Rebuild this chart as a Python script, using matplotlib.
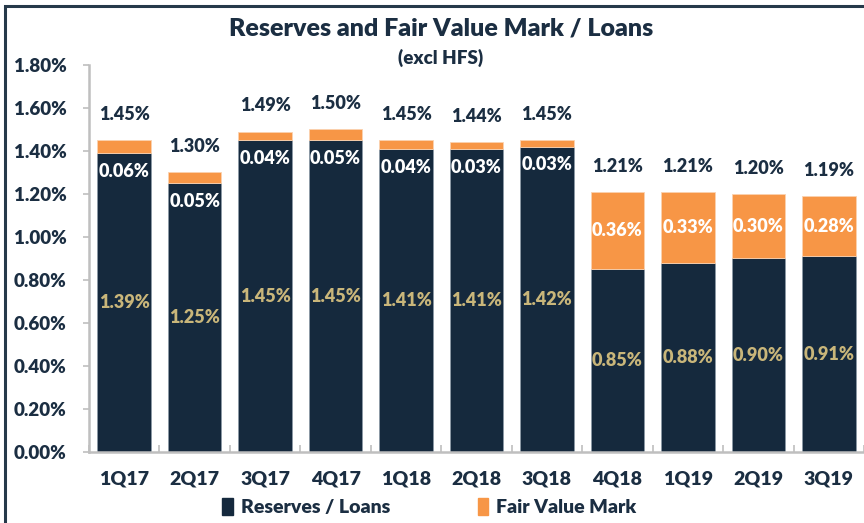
import matplotlib
matplotlib.use("Agg")
import matplotlib.pyplot as plt
from matplotlib.patches import Rectangle, Patch
import numpy as np

plt.rcParams['font.family'] = ['Lato', 'DejaVu Sans']
plt.rcParams['font.weight'] = 'bold'

quarters = ["1Q17", "2Q17", "3Q17", "4Q17", "1Q18", "2Q18", "3Q18",
            "4Q18", "1Q19", "2Q19", "3Q19"]
reserves = [1.39, 1.25, 1.45, 1.45, 1.41, 1.41, 1.42, 0.85, 0.88, 0.90, 0.91]
fair_value = [0.06, 0.05, 0.04, 0.05, 0.04, 0.03, 0.03, 0.36, 0.33, 0.30, 0.28]
totals = [1.45, 1.30, 1.49, 1.50, 1.45, 1.44, 1.45, 1.21, 1.21, 1.20, 1.19]
y_ticks = [0.0, 0.2, 0.4, 0.6, 0.8, 1.0, 1.2, 1.4, 1.6, 1.8]

NAVY = "#15293d"
ORANGE = "#f79646"
KHAKI = "#c9b67a"
TEXT = "#1b2e42"
GRID = "#bfbfbf"
W = "heavy"

fig = plt.figure(figsize=(8.64, 5.23), dpi=100)
ax = fig.add_axes([0.103, 0.1358, 0.897, 0.74])

x = np.arange(len(quarters))
ax.bar(x, reserves, width=0.76, color=NAVY, edgecolor="#8c9aa6", linewidth=0.6)
ax.bar(x, fair_value, width=0.76, bottom=reserves, color=ORANGE,
       edgecolor="#fbd2b0", linewidth=0.6)

for i in range(len(quarters)):
    ax.text(x[i], totals[i] + 0.12, f"{totals[i]:.2f}%", ha="center", va="center",
            fontsize=13, color=TEXT, fontweight=W)
    ax.text(x[i], reserves[i] / 2, f"{reserves[i]:.2f}%", ha="center", va="center",
            fontsize=13, color=KHAKI, fontweight=W)
    if fair_value[i] > 0.1:
        fy = reserves[i] + fair_value[i] / 2
    else:
        fy = reserves[i] - 0.085
    ax.text(x[i], fy, f"{fair_value[i]:.2f}%", ha="center", va="center",
            fontsize=13, color="white", fontweight=W)

ax.set_xlim(-0.5, len(quarters) - 0.5)
ax.set_ylim(0, 1.8)
ax.set_yticks(y_ticks)
ax.set_yticklabels([f"{v:.2f}%" for v in y_ticks], fontweight=W)
ax.set_xticks(x)
ax.set_xticklabels(quarters, fontweight=W)
ax.set_xticks(np.arange(-0.5, len(quarters)), minor=True)

for s in ["top", "right"]:
    ax.spines[s].set_visible(False)
for s in ["left", "bottom"]:
    ax.spines[s].set_color(GRID)
    ax.spines[s].set_linewidth(1.8)

ax.tick_params(axis="y", colors=GRID, labelcolor=TEXT, labelsize=13.5,
               length=4, width=1.2, pad=12)
ax.tick_params(axis="x", which="major", length=0, labelcolor=TEXT,
               labelsize=14, pad=13)
ax.tick_params(axis="x", which="minor", length=5, width=1.2, colors=GRID,
               direction="in")

fig.text(0.51, 0.945, "Reserves and Fair Value Mark / Loans", ha="center",
         va="center", fontsize=18, color=TEXT, fontweight=W)
fig.text(0.51, 0.889, "(excl HFS)", ha="center", va="center",
         fontsize=13.5, color=TEXT, fontweight=W)

handles = [Patch(color=NAVY, label="Reserves / Loans"),
           Patch(color=ORANGE, label="Fair Value Mark")]
fig.legend(handles=handles, loc="center", bbox_to_anchor=(0.497, 0.031),
           ncol=2, frameon=False, prop={"size": 14, "weight": W},
           handlelength=0.55, handleheight=1.0, handletextpad=0.4,
           columnspacing=4.5, labelcolor=TEXT)

# outer chart frame (partly cropped in the source)
fig.add_artist(Rectangle((0.006, -0.05), 1.2, 1.039, transform=fig.transFigure,
                         fill=False, edgecolor="#26394a", linewidth=2.2))

fig.savefig("out.png", dpi=100)
